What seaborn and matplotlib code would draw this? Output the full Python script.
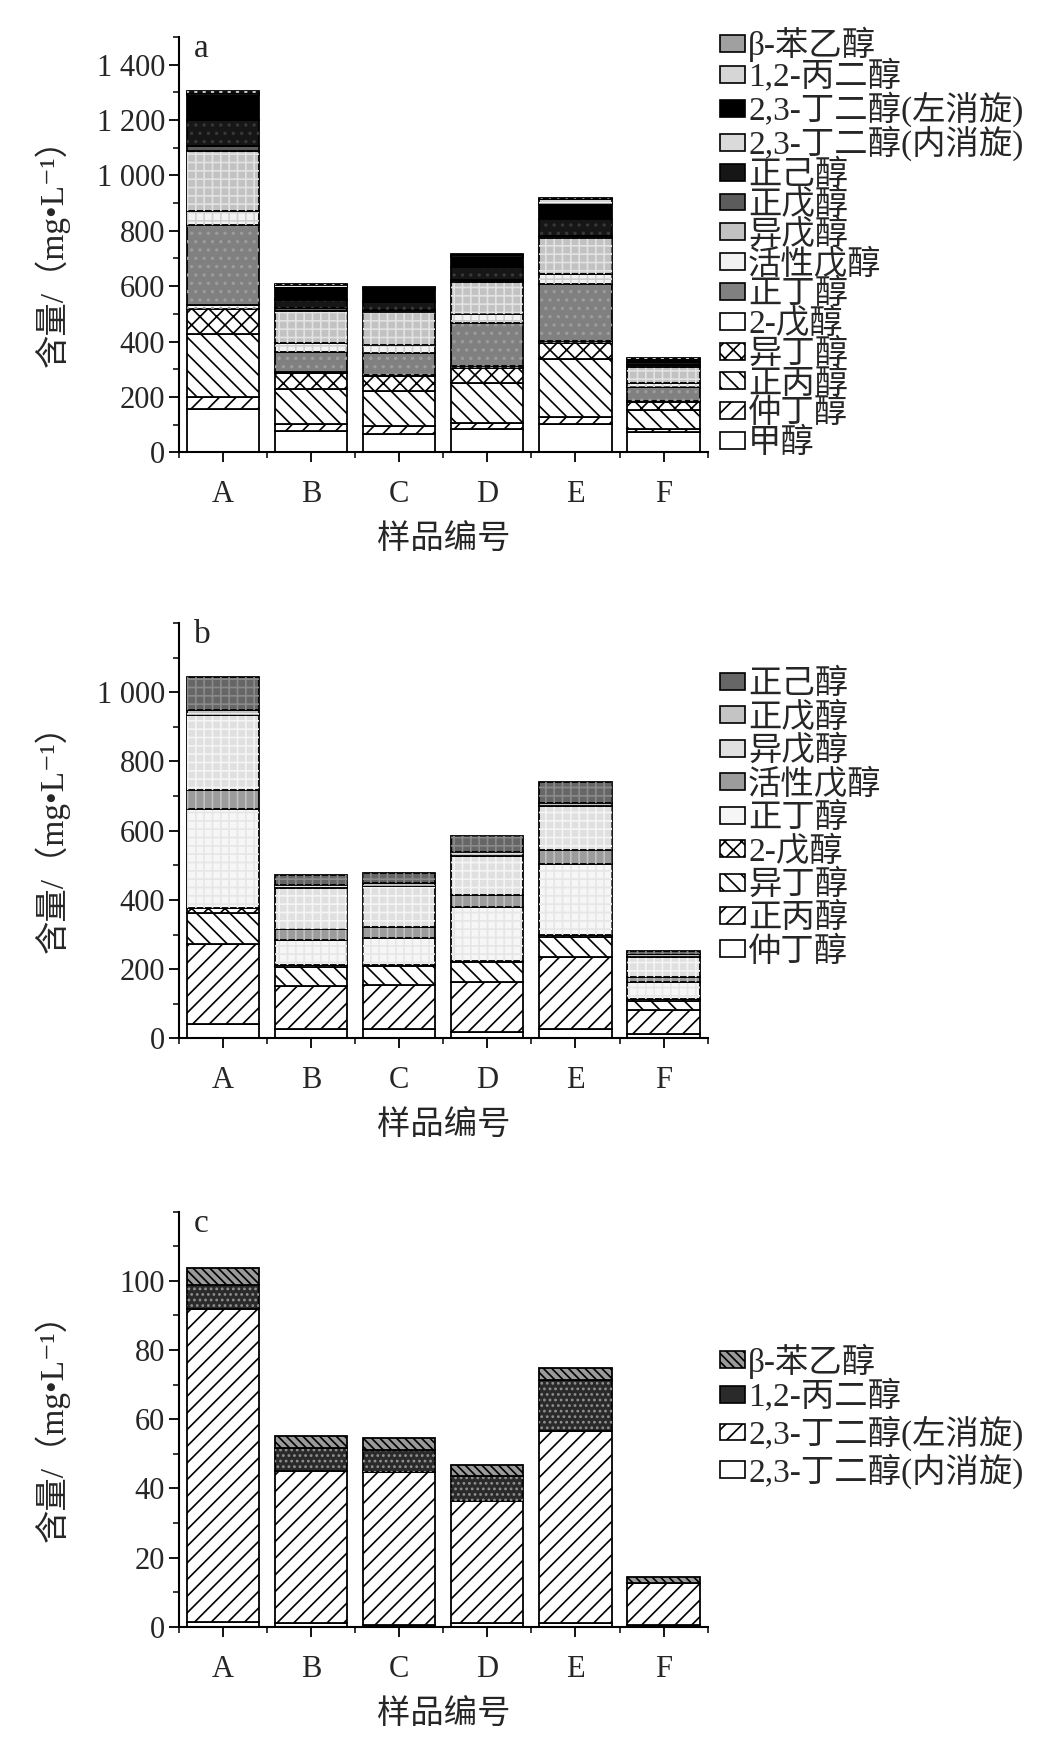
import numpy as np
import pandas as pd
import seaborn as sns
import matplotlib.pyplot as plt
from matplotlib.ticker import MultipleLocator, FixedLocator, FuncFormatter
from matplotlib.patches import Patch

sns.set_style('ticks')
plt.rcParams['font.family'] = ['Liberation Serif', 'Noto Sans CJK SC', 'DejaVu Sans']
plt.rcParams['hatch.linewidth'] = 1.2
plt.rcParams['axes.unicode_minus'] = False

# --- data (mg/L) ---
samples = ['A', 'B', 'C', 'D', 'E', 'F']

# 甲醇 (panel a only)
methanol = [156, 78, 66, 86, 102, 72]

# higher alcohols (panel b)
sec_butanol = [42, 26, 28, 19, 26, 14]
n_propanol = [231, 126, 126, 145, 209, 68]
isobutanol = [89, 55, 55, 56, 59, 27]
pentanol_2 = [14, 4, 4, 5, 5, 4]
n_butanol = [288, 74, 78, 156, 206, 51]
active_amyl = [53, 31, 30, 34, 38, 13]
isoamyl = [216, 118, 120, 113, 128, 59]
n_pentanol = [16, 10, 8, 10, 9, 7]
n_hexanol = [95, 29, 29, 46, 60, 10]

# polyols / aromatic alcohol (panel c)
meso_bd = [1.5, 1.0, 0.7, 1.0, 1.2, 0.5]
levo_bd = [90.3, 44.1, 44.0, 35.5, 55.3, 12.1]
propanediol = [6.9, 6.6, 6.5, 7.2, 14.7, 0.2]
phenylethanol = [4.9, 3.6, 3.3, 3.0, 3.7, 1.5]

# (label, values, facecolor, hatch, hatch colour) from bottom to top
layers_a = [
    ('甲醇', methanol, 'white', '', 'black'),
    ('仲丁醇', sec_butanol, 'white', '//', 'black'),
    ('正丙醇', n_propanol, 'white', '\\\\', 'black'),
    ('异丁醇', isobutanol, 'white', 'xx', 'black'),
    ('2-戊醇', pentanol_2, 'white', '..', '#9a9a9a'),
    ('正丁醇', n_butanol, '#808080', '..', '#9c9c9c'),
    ('活性戊醇', active_amyl, '#f2f2f2', '++', '#d0d0d0'),
    ('异戊醇', isoamyl, '#c2c2c2', '++', '#e2e2e2'),
    ('正戊醇', n_pentanol, '#5c5c5c', '', 'black'),
    ('正己醇', n_hexanol, '#161616', '..', '#383838'),
    ('2,3-丁二醇(内消旋)', meso_bd, '#dadada', '', 'black'),
    ('2,3-丁二醇(左消旋)', levo_bd, 'black', '', 'black'),
    ('1,2-丙二醇', propanediol, '#d6d6d6', '---', '#f4f4f4'),
    ('β-苯乙醇', phenylethanol, '#a0a0a0', '..', '#c8c8c8'),
]

layers_b = [
    ('仲丁醇', sec_butanol, 'white', '', 'black'),
    ('正丙醇', n_propanol, 'white', '//', 'black'),
    ('异丁醇', isobutanol, 'white', '\\\\', 'black'),
    ('2-戊醇', pentanol_2, 'white', 'xx', 'black'),
    ('正丁醇', n_butanol, '#f6f6f6', '++', '#e6e6e6'),
    ('活性戊醇', active_amyl, '#9c9c9c', '||', '#c0c0c0'),
    ('异戊醇', isoamyl, '#e0e0e0', '++', '#f4f4f4'),
    ('正戊醇', n_pentanol, '#c4c4c4', '---', '#eeeeee'),
    ('正己醇', n_hexanol, '#666666', '++', '#8a8a8a'),
]

layers_c = [
    ('2,3-丁二醇(内消旋)', meso_bd, 'white', '', 'black'),
    ('2,3-丁二醇(左消旋)', levo_bd, 'white', '//', 'black'),
    ('1,2-丙二醇', propanediol, '#2a2a2a', '...', '#909090'),
    ('β-苯乙醇', phenylethanol, '#9a9a9a', '\\\\\\\\', 'black'),
]


def draw_stack(ax, layers):
    bottom = np.zeros(len(samples))
    for name, vals, face, hatch, hcol in layers:
        df = pd.DataFrame({'样品编号': samples, '含量': vals})
        sns.barplot(data=df, x='样品编号', y='含量', order=samples, ax=ax,
                    color=face, saturation=1, errorbar=None, width=0.82,
                    bottom=bottom.copy(), edgecolor='black', linewidth=1.3,
                    hatch=hatch if (hatch and hcol == 'black') else None)
        if hatch and hcol != 'black':
            # lighter texture drawn over the filled bar
            sns.barplot(data=df, x='样品编号', y='含量', order=samples, ax=ax,
                        color=hcol, fill=False, errorbar=None, width=0.82,
                        bottom=bottom.copy(), edgecolor=hcol, linewidth=0,
                        hatch=hatch)
        bottom += np.asarray(vals, dtype=float)


def space_thousands(v, pos):
    return f'{int(round(v)):,}'.replace(',', ' ')


fig = plt.figure(figsize=(10.53, 17.60), dpi=100)
fig.patch.set_facecolor('white')

# letter, layers, axes rect, ymax, major, minor, legend y, label spacing
panels = [
    ('a', layers_a, [0.170, 0.743, 0.502, 0.236], 1500, 200, 100, 0.504, -0.05),
    ('b', layers_b, [0.170, 0.410, 0.502, 0.236], 1200, 200, 100, 0.530, 0.06),
    ('c', layers_c, [0.170, 0.0756, 0.502, 0.236], 120, 20, 10, 0.508, 0.06),
]

for letter, layers, rect, ymax, major, minor, ly, lsp in panels:
    ax = fig.add_axes(rect)
    draw_stack(ax, layers)

    ax.set_xlim(-0.5, len(samples) - 0.5)
    ax.set_ylim(0, ymax)
    ax.yaxis.set_major_locator(FixedLocator(np.arange(0, ymax, major)))
    ax.yaxis.set_minor_locator(MultipleLocator(minor))
    ax.yaxis.set_major_formatter(FuncFormatter(space_thousands))
    ax.xaxis.set_minor_locator(FixedLocator(np.arange(-0.5, len(samples), 1)))

    ax.tick_params(axis='both', which='major', direction='out', length=7,
                   width=1.3, labelsize=22, color='black')
    ax.tick_params(axis='x', which='major', pad=13)
    ax.tick_params(axis='y', which='major', pad=3)
    ax.tick_params(axis='both', which='minor', direction='out', length=4,
                   width=1.1, color='black')
    for s in ['top', 'right']:
        ax.spines[s].set_visible(False)
    for s in ['left', 'bottom']:
        ax.spines[s].set_linewidth(1.5)
        ax.spines[s].set_color('black')

    ax.set_xlabel('样品编号', fontsize=24)
    ax.set_ylabel('含量/（mg•L⁻¹）', fontsize=24)
    ax.xaxis.set_label_coords(0.5, -0.175)
    ax.yaxis.set_label_coords(-0.206, 0.5)
    ax.text(0.028, 1.008, letter, transform=ax.transAxes, fontsize=24,
            va='top', ha='left')

    handles = [Patch(facecolor=face, edgecolor='black', linewidth=1.2,
                     hatch=hatch if hcol == 'black' else None, label=name)
               for name, vals, face, hatch, hcol in layers][::-1]
    ax.legend(handles=handles, loc='center left', bbox_to_anchor=(1.023, ly),
              frameon=False, fontsize=24, handlelength=0.75, handleheight=0.4,
              handletextpad=0.1, labelspacing=lsp, borderpad=0,
              borderaxespad=0)

fig.savefig('out.png', dpi=100, facecolor='white')
